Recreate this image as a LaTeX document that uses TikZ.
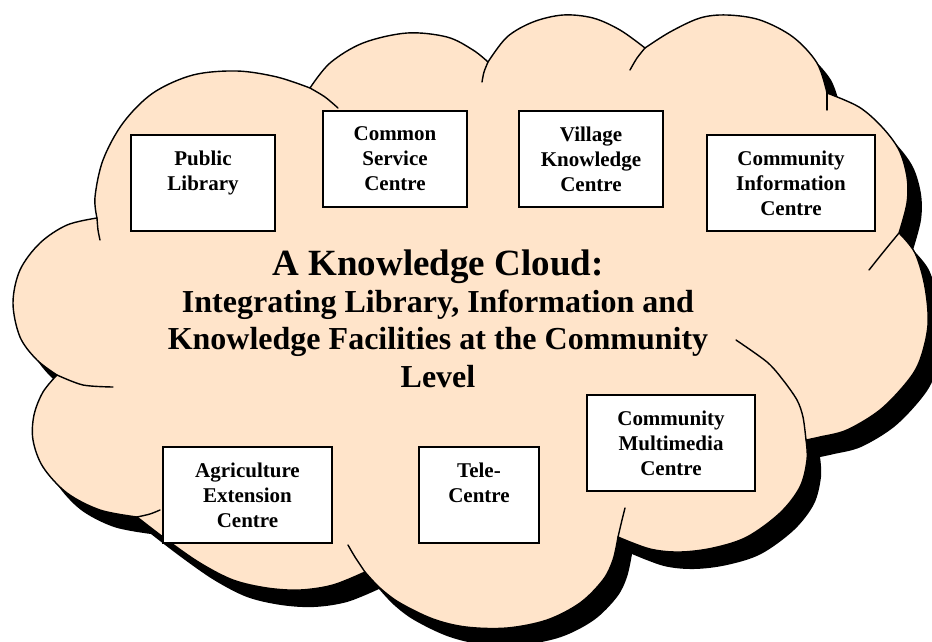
\documentclass[tikz,border=0pt]{standalone}
\usepackage{fontspec}
\setmainfont{Liberation Serif}
\definecolor{cloudfill}{RGB}{255,228,202}
\tikzset{
  cloudline/.style={draw=black, line width=1.4pt, line join=round, line cap=round},
  kbox/.style={draw=black, fill=white, line width=1.8pt, inner sep=0pt, align=center,
    font=\bfseries\fontsize{21}{25}\selectfont},
  titletext/.style={inner sep=0pt, align=center, font=\bfseries\fontsize{37}{37}\selectfont},
  subtext/.style={inner sep=0pt, align=center, font=\bfseries\fontsize{32}{37.5}\selectfont},
}
\newcommand\cloudshape[1]{%
  \path[#1]
    plot[smooth,tension=0.55] coordinates {(57,375) (37,360) (20,337) (13,303) (20,270) (40,243) (67,225) (97,218)}
 -- plot[smooth,tension=0.55] coordinates {(97,218) (95,197) (103,160) (123,123) (153,93) (193,75) (237,71) (277,77) (310,88)}
 -- plot[smooth,tension=0.55] coordinates {(310,88) (330,63) (363,43) (407,33) (447,37) (473,50) (488,62)}
 -- plot[smooth,tension=0.55] coordinates {(488,62) (507,37) (533,22) (563,15) (593,18) (620,30) (645,48)}
 -- plot[smooth,tension=0.55] coordinates {(645,48) (670,32) (700,18) (727,15) (760,20) (793,37) (817,63) (827,93)}
 -- plot[smooth,tension=0.55] coordinates {(827,93) (859,107) (882,127) (899,150) (907,177) (907,203) (899,233)}
 -- plot[smooth,tension=0.55] coordinates {(899,233) (915,253) (925,287) (928,325) (920,360) (907,382) (880,410) (847,430) (820,437) (806,440)}
 -- plot[smooth,tension=0.55] coordinates {(806,440) (807,460) (800,487) (780,513) (747,537) (713,548) (680,552) (650,549) (618,537)}
 -- plot[smooth,tension=0.55] coordinates {(618,537) (613,560) (603,580) (580,603) (547,620) (507,628) (466,627) (433,619) (400,603) (380,588) (365,572)}
 -- plot[smooth,tension=0.55] coordinates {(365,572) (333,585) (300,590) (267,588) (233,580) (200,563) (167,540) (137,517)}
 -- plot[smooth,tension=0.55] coordinates {(137,517) (100,510) (67,493) (43,467) (33,440) (34,415) (43,392) (57,375)}
 -- cycle;}
\begin{document}
\begin{tikzpicture}[x=1pt, y=-1pt]
  \fill[white] (0,0) rectangle (932,641);
  \useasboundingbox (0,0) rectangle (932,641);
  \clip (0,0) rectangle (932,641);
  % shadow
  \cloudshape{fill=black, shift={(14,17)}}
  % cloud
  \cloudshape{fill=cloudfill, cloudline}
  % inner continuation strokes of the lobes
  \draw[cloudline] plot[smooth] coordinates {(57,375) (83,385) (113,387)};
  \draw[cloudline] plot[smooth] coordinates {(97,218) (98,230) (100,240)};
  \draw[cloudline] plot[smooth] coordinates {(310,88) (325,97) (338,108)};
  \draw[cloudline] plot[smooth] coordinates {(488,62) (484,72) (482,82)};
  \draw[cloudline] plot[smooth] coordinates {(645,48) (637,58) (630,70)};
  \draw[cloudline] plot[smooth] coordinates {(827,93) (827,110)};
  \draw[cloudline] plot[smooth] coordinates {(899,233) (885,250) (869,270)};
  \draw[cloudline] plot[smooth] coordinates {(806,440) (803,417) (797,400) (783,380) (767,362) (736,340)};
  \draw[cloudline] plot[smooth] coordinates {(618,537) (622,520) (625,508)};
  \draw[cloudline] plot[smooth] coordinates {(365,572) (355,557) (348,545)};
  \draw[cloudline] plot[smooth] coordinates {(137,517) (150,514) (160,510)};
  % boxes
  \node[kbox, minimum width=144pt, minimum height=96pt] (pl) at (203,183) {Public\\Library\\\mbox{}};
  \node[kbox, minimum width=144pt, minimum height=96pt] (csc) at (395,159) {Common\\Service\\Centre};
  \node[kbox, minimum width=144pt, minimum height=96pt] (vkc) at (591,159) {Village\\Knowledge\\Centre};
  \node[kbox, minimum width=168pt, minimum height=96pt] (cic) at (791,183) {Community\\Information\\Centre};
  \node[kbox, minimum width=169pt, minimum height=96pt] (aec) at (247.5,495) {Agriculture\\Extension\\Centre};
  \node[kbox, minimum width=120pt, minimum height=96pt] (tc) at (479,495) {Tele-\\Centre\\\mbox{}};
  \node[kbox, minimum width=168pt, minimum height=96pt] (cmc) at (671,443) {Community\\Multimedia\\Centre};
  % title
  \node[titletext, anchor=base] (title) at (438,275) {A Knowledge Cloud:};
  \node[subtext] (sub) at (438,338.7) {Integrating Library, Information and\\Knowledge Facilities at the Community\\Level};
\end{tikzpicture}
\end{document}
